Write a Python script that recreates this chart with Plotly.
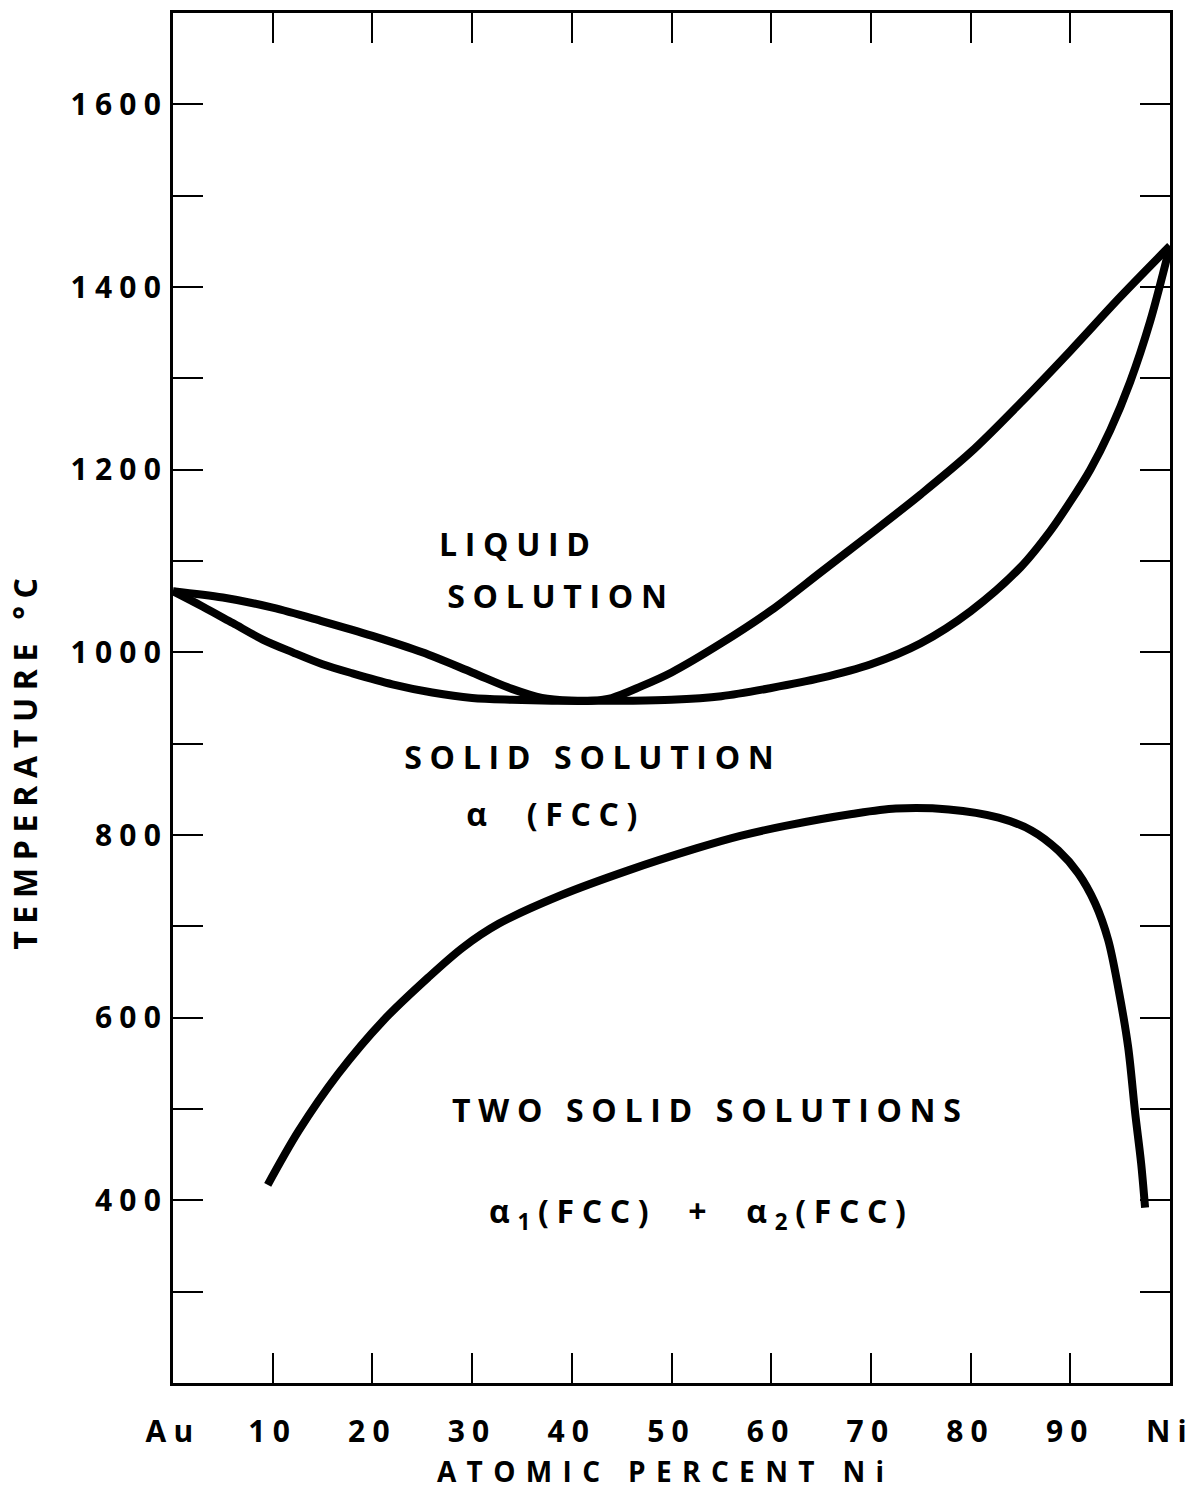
import plotly.graph_objects as go

# Au-Ni phase diagram: liquidus, solidus and the solid-state miscibility gap
liquidus_ni = [0, 5, 10, 15, 20, 25, 30, 34, 37, 40, 42, 44, 47, 50, 55, 60, 65, 70, 75, 80, 85, 90, 95, 100]
liquidus_t = [1067, 1060, 1049, 1034, 1018, 1000, 978, 960, 950, 947, 947, 950, 963, 978, 1010, 1046, 1088, 1130, 1173, 1219, 1273, 1330, 1389, 1445]

solidus_ni = [0, 3, 6, 9, 12, 15, 18, 22, 26, 30, 34, 38, 42, 46, 50, 55, 60, 65, 70, 75, 80, 85, 88, 90, 92, 94, 96, 98, 100]
solidus_t = [1067, 1050, 1032, 1014, 1000, 987, 977, 965, 956, 950, 948, 947, 947, 947, 948, 952, 961, 972, 987, 1010, 1045, 1093, 1133, 1165, 1200, 1243, 1296, 1362, 1445]

gap_ni = [9.5, 12.6, 16.6, 21.1, 25.6, 29.1, 32.7, 38.9, 45.6, 52.4, 56.9, 61.4, 68.1, 72.5, 77.8, 82.8, 86.1, 88.8, 90.8, 92.5, 93.8, 94.8, 95.8, 96.5, 97.1, 97.5]
gap_t = [417, 476, 539, 597, 644, 677, 703, 734, 761, 785, 799, 810, 823, 829, 828, 819, 805, 783, 758, 725, 685, 633, 568, 496, 441, 392]

x_tick_vals = [0, 10, 20, 30, 40, 50, 60, 70, 80, 90, 100]
x_tick_text = ["Au", "10", "20", "30", "40", "50", "60", "70", "80", "90", "Ni"]
y_tick_vals = [400, 600, 800, 1000, 1200, 1400, 1600]
y_tick_text = ["400", "600", "800", "1000", "1200", "1400", "1600"]

FONT = "Open Sans"
INK = "black"

fig = go.Figure()
for xs, ys in [(liquidus_ni, liquidus_t), (solidus_ni, solidus_t), (gap_ni, gap_t)]:
    fig.add_trace(go.Scatter(
        x=xs, y=ys, mode="lines",
        line=dict(color=INK, width=8, shape="spline", smoothing=0.9),
        showlegend=False, hoverinfo="skip",
    ))

axis_common = dict(
    showline=True, linecolor=INK, linewidth=3, mirror="ticks",
    ticks="inside", ticklen=30, tickwidth=2, tickcolor=INK,
    showgrid=False, zeroline=False,
    tickfont=dict(family=FONT, size=30, color=INK, weight=700),
)

fig.update_xaxes(range=[0, 100], tickmode="array", tickvals=x_tick_vals,
                 ticktext=x_tick_text, ticklabelstandoff=20, **axis_common)
fig.update_yaxes(range=[200, 1700], tickmode="array", tickvals=y_tick_vals,
                 ticktext=y_tick_text, ticklabelstandoff=-4,
                 minor=dict(dtick=100, ticks="inside", ticklen=30, tickwidth=2,
                            tickcolor=INK, showgrid=False),
                 **axis_common)

label_font = dict(family=FONT, size=32, color=INK, weight=700)
regions = [
    (34.7, 1119, "LIQUID"),
    (38.9, 1062, "SOLUTION"),
    (42.1, 886, "SOLID SOLUTION"),
    (38.4, 824, "α  (FCC)"),
    (53.9, 499, "TWO SOLID SOLUTIONS"),
    (53.0, 386, "α<sub>1</sub>(FCC)  +  α<sub>2</sub>(FCC)"),
]
for x, y, txt in regions:
    fig.add_annotation(x=x, y=y, xref="x", yref="y", text=txt, showarrow=False,
                       font=label_font, xanchor="center", yanchor="middle")

# axis titles
fig.add_annotation(x=0.494, y=-0.0794, xref="paper", yref="paper",
                   text="ATOMIC PERCENT Ni", showarrow=False,
                   font=dict(family=FONT, size=28, color=INK, weight=700),
                   xanchor="center", yanchor="bottom")
fig.add_annotation(x=-0.149, y=0.455, xref="paper", yref="paper",
                   text="TEMPERATURE °C", showarrow=False, font=label_font,
                   textangle=-90, xanchor="center", yanchor="middle")

fig.update_layout(
    width=1197, height=1493,
    margin=dict(l=173, r=25, t=10, b=110),
    paper_bgcolor="white", plot_bgcolor="white",
)

# widen the letter spacing of all lettering, as in stencilled drafting text;
# the x-axis title is spread a little wider still
spacing_js = """
var gd = document.getElementById('{plot_id}');
gd.querySelectorAll('text').forEach(function (t) {
    var wide = t.textContent === 'ATOMIC PERCENT Ni';
    t.style.letterSpacing = wide ? '0.37em' : '0.24em';
});
"""

fig.write_html("out.html", post_script=spacing_js)
